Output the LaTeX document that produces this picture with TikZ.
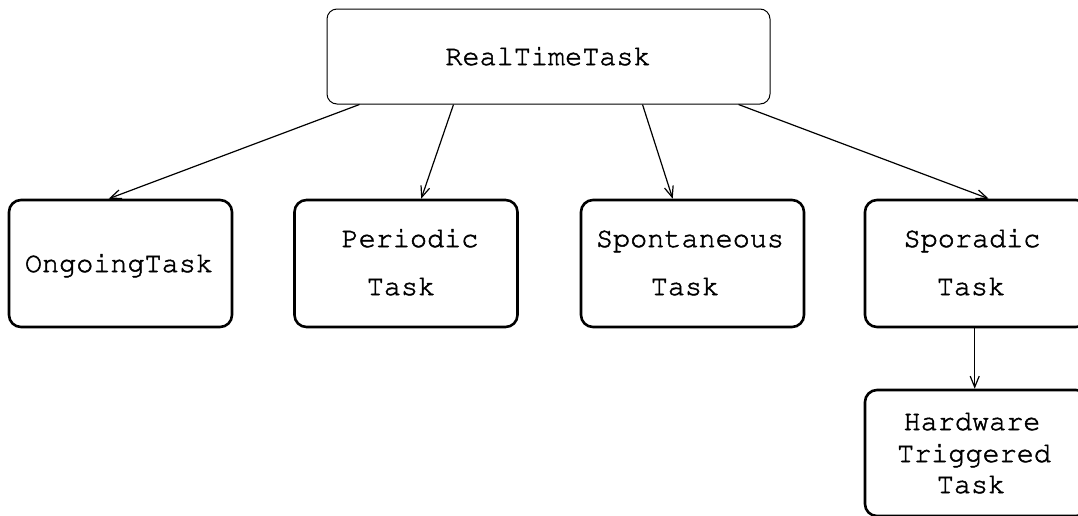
\documentclass[tikz,border=0pt]{standalone}
\usepackage[T1]{fontenc}
\usetikzlibrary{arrows.meta}
% Courier text with a slightly thickened outline
\newcommand\heavytext[1]{\special{pdf:code q 2 Tr 0.5 w}#1\special{pdf:code Q}}
\begin{document}
\begin{tikzpicture}[x=1pt,y=-1pt,
  classbox/.style={draw, rounded corners=12pt, line width=2.6pt,
    minimum width=223pt, minimum height=127pt, inner sep=0pt},
  rootbox/.style={draw, rounded corners=10pt, line width=1pt,
    minimum width=443pt, minimum height=95pt, inner sep=0pt},
  lbl/.style={font=\fontencoding{T1}\fontfamily{pcr}\fontsize{28.5}{30}\selectfont,
    anchor=base, inner sep=0pt},
  link/.style={line width=1.2pt, -{Straight Barb[length=11pt,width=9pt]}}]
\useasboundingbox (0,0) rectangle (1078,515);
\clip (0,0) rectangle (1078,515);

% boxes
\node[rootbox]  (root)   at (548.5, 56.5) {};
\node[classbox] (ongo)   at (120.5, 263.5) {};
\node[classbox] (period) at (406, 263.5) {};
\node[classbox] (spont)  at (692.5, 263.5) {};
\node[classbox] (spor)   at (976.5, 263.5) {};
\node[classbox, minimum height=126pt] (hw) at (976.5, 453) {};

% labels
\node[lbl] (tRoot) at (548, 65) {\heavytext{RealTimeTask}};
\node[lbl] (tOngo) at (119, 272) {\heavytext{OngoingTask}};
\node[lbl] (tPer1) at (410, 247) {\heavytext{Periodic}};
\node[lbl] (tPer2) at (401, 295) {\heavytext{Task}};
\node[lbl] (tSpo1) at (690, 247) {\heavytext{Spontaneous}};
\node[lbl] (tSpo2) at (685, 295) {\heavytext{Task}};
\node[lbl] (tSpr1) at (972, 247) {\heavytext{Sporadic}};
\node[lbl] (tSpr2) at (971, 295) {\heavytext{Task}};
\node[lbl] (tHw1)  at (972, 430) {\heavytext{Hardware}};
\node[lbl] (tHw2)  at (974, 462) {\heavytext{Triggered}};
\node[lbl] (tHw3)  at (971, 493) {\heavytext{Task}};

% inheritance links
\draw[link] ([xshift=33pt]root.south west)  -- ([xshift=101pt]ongo.north west);
\draw[link] ([xshift=127pt]root.south west) -- ([xshift=128pt]period.north west);
\draw[link] ([xshift=316pt]root.south west) -- ([xshift=93pt]spont.north west);
\draw[link] ([xshift=412pt]root.south west) -- ([xshift=125pt]spor.north west);
\draw[link] ([xshift=111pt]spor.south west) -- ([xshift=111pt]hw.north west);
\end{tikzpicture}
\end{document}
